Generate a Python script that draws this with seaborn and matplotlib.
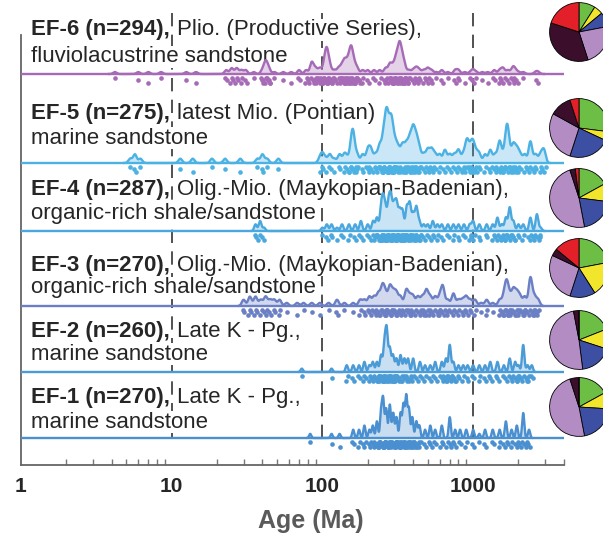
import numpy as np
import matplotlib.pyplot as plt
import seaborn as sns

# --- data: detrital zircon ages (Ma) and number of grains at each age ---
ef6_ages = [4.2, 6, 7, 8.5, 12.5, 14.5, 23, 25, 27, 29, 31, 35, 40, 42, 44, 48, 55, 62, 70, 78,
            85, 90, 96, 103, 107, 112, 120, 128, 135, 141, 148, 155, 162, 170, 185, 200, 220,
            240, 262, 280, 295, 310, 325, 338, 350, 375, 400, 420, 440, 470, 500, 530, 570,
            620, 680, 760, 800, 880, 960, 1000, 1050, 1150, 1250, 1380, 1500, 1580, 1700,
            1830, 1900, 2000, 2150, 2600, 2700]
ef6_counts = [1, 1, 1, 1, 1, 1, 2, 3, 3, 2, 2, 1, 2, 6, 3, 1, 1, 1, 2, 2,
              6, 3, 3, 5, 11, 4, 2, 3, 4, 6, 6, 12, 5, 3, 2, 2, 2,
              2, 3, 5, 4, 8, 13, 6, 4, 2, 2, 3, 2, 2, 3, 2, 1,
              2, 1, 2, 2, 1, 1, 2, 1, 1, 1, 2, 2, 3, 2,
              3, 2, 1, 1, 1, 1]

ef5_ages = [5.3, 5.7, 6.2, 11.4, 13.8, 18.5, 22.6, 28.5, 37, 40, 43, 51,
            96, 100, 105, 112, 120, 130, 140, 146, 155, 160, 170, 185, 200, 210, 225, 240,
            255, 267, 280, 290, 305, 320, 340, 360, 380, 400, 420, 440, 470, 500, 530, 560,
            600, 650, 700, 750, 800, 860, 910, 960, 1000, 1050, 1100, 1200, 1300, 1400,
            1500, 1600, 1680, 1750, 1850, 1950, 2050, 2200, 2400, 2600, 2800, 2950]
ef5_counts = [1, 2, 1, 1, 1, 1, 1, 1, 1, 2, 1, 1,
              1, 2, 1, 2, 1, 2, 2, 1, 3, 6, 2, 2, 3, 3, 2, 4,
              6, 10, 6, 7, 4, 3, 4, 4, 5, 7, 5, 3, 2, 3, 3, 2,
              2, 3, 2, 2, 3, 2, 5, 3, 4, 2, 2, 2, 3, 2,
              5, 2, 8, 2, 4, 3, 2, 2, 5, 2, 2, 3]

ef4_ages = [36, 38.6, 41, 100, 107, 115, 125, 135, 150, 165, 180, 200, 217, 230, 245, 253,
            262, 275, 285, 298, 310, 325, 340, 363, 380, 400, 420, 440, 470, 500, 540, 580,
            620, 680, 740, 800, 870, 950, 1000, 1100, 1230, 1350, 1450, 1550, 1650, 1750,
            1850, 2000, 2150, 2400, 2650, 2800]
ef4_counts = [2, 3, 1, 1, 2, 2, 1, 2, 2, 2, 3, 2, 3, 4, 6, 8,
              6, 8, 9, 7, 8, 6, 6, 7, 8, 5, 7, 3, 2, 2, 3, 2,
              2, 2, 2, 2, 2, 2, 3, 2, 2, 2, 4, 2, 4, 7,
              3, 2, 2, 4, 5, 1]

ef3_ages = [30, 33, 36, 39, 42, 45, 48, 52, 58, 68, 75, 85, 96, 110, 125, 140, 160, 178, 190,
            205, 220, 235, 250, 262, 280, 295, 310, 330, 360, 380, 400, 430, 460, 490, 520,
            560, 600, 630, 680, 740, 800, 850, 900, 960, 1030, 1130, 1230, 1350, 1500, 1600,
            1670, 1750, 1850, 1950, 2050, 2200, 2400, 2550, 2700]
ef3_counts = [2, 3, 3, 2, 3, 2, 2, 2, 1, 1, 1, 1, 1, 1, 2, 1, 1, 2, 2,
              3, 3, 4, 6, 4, 6, 4, 4, 3, 5, 3, 3, 3, 3, 5, 3,
              3, 3, 6, 2, 4, 2, 2, 3, 2, 2, 1, 2, 1, 2, 3,
              7, 3, 5, 4, 3, 3, 9, 3, 2]

ef2_ages = [73, 115, 145, 160, 175, 190, 205, 216, 230, 245, 258, 267, 280, 294, 310, 330,
            350, 370, 400, 444, 480, 520, 560, 620, 660, 700, 740, 800, 860, 920, 1000, 1100,
            1200, 1300, 1450, 1600, 1750, 1900, 2000, 2150, 2300, 2450]
ef2_counts = [1, 1, 2, 2, 2, 3, 2, 3, 3, 5, 8, 12, 7, 5, 4, 5,
              4, 4, 4, 3, 2, 2, 3, 3, 4, 8, 3, 2, 2, 2, 2, 2,
              2, 3, 3, 2, 4, 3, 2, 8, 2, 2]

ef1_ages = [83, 115, 130, 160, 175, 190, 205, 216, 230, 245, 253, 265, 280, 295, 310, 330,
            345, 360, 375, 395, 420, 440, 480, 520, 560, 620, 700, 760, 820, 900, 1000, 1100,
            1200, 1350, 1500, 1650, 1800, 1950, 2150, 2350]
ef1_counts = [1, 1, 1, 2, 2, 3, 2, 3, 4, 6, 9, 7, 8, 6, 5, 6,
              8, 10, 7, 5, 4, 3, 2, 3, 2, 3, 5, 2, 2, 2, 2, 1,
              2, 2, 2, 4, 2, 3, 6, 2]

# pie fractions (%): green, yellow, blue, lilac, maroon, red
ef6_pie = [9, 5, 8, 23, 35, 20]
ef5_pie = [27, 5, 23, 28, 12, 5]
ef4_pie = [17, 10, 20, 48, 3, 2]
ef3_pie = [22, 19, 14, 27, 4, 14]
ef2_pie = [19, 11, 18, 49, 3, 0]
ef1_pie = [17, 9, 21, 48, 5, 0]

bold_labels = ["EF-6 (n=294),", "EF-5 (n=275),", "EF-4 (n=287),",
               "EF-3 (n=270),", "EF-2 (n=260),", "EF-1 (n=270),"]
rest_labels = ["Plio. (Productive Series),", "latest Mio. (Pontian)",
               "Olig.-Mio. (Maykopian-Badenian),", "Olig.-Mio. (Maykopian-Badenian),",
               "Late K - Pg.,", "Late K - Pg.,"]
line2_labels = ["fluviolacustrine sandstone", "marine sandstone",
                "organic-rich shale/sandstone", "organic-rich shale/sandstone",
                "marine sandstone", "marine sandstone"]

ages = [ef6_ages, ef5_ages, ef4_ages, ef3_ages, ef2_ages, ef1_ages]
counts = [ef6_counts, ef5_counts, ef4_counts, ef3_counts, ef2_counts, ef1_counts]
pies = [ef6_pie, ef5_pie, ef4_pie, ef3_pie, ef2_pie, ef1_pie]

# --- layout / style ---
colors = ["#a66ab6", "#4cb2e4", "#4aa8de", "#6b7fc4", "#4a9bd6", "#4a8fd0"]
pie_colors = ["#6cbe45", "#f2e62c", "#3c4fa3", "#b38cc4", "#3b0f2c", "#e3202a"]
baselines = [74, 163, 231, 306, 372, 438]
peak_px = [33, 56, 40, 29, 47, 44]
text_y = [(30, 57), (113, 138), (189, 213), (265, 288), (332, 354), (398, 422)]
pie_y = [32, 128, 198, 268, 340, 407]

sns.set_theme(style="white")
plt.rcParams["font.family"] = ["Liberation Sans", "DejaVu Sans"]

W, H = 603, 536
X0, X1, PPD = 21, 564, 150.7
XMAX = 10 ** ((X1 - X0) / PPD)


def fbox(x0, y0, x1, y1):
    return [x0 / W, 1 - y1 / H, (x1 - x0) / W, (y1 - y0) / H]


fig = plt.figure(figsize=(W / 100, H / 100), dpi=100)

# main frame: y in pixel rows
ax = fig.add_axes(fbox(X0, 10, X1, 465))
ax.set_xscale("log")
ax.set_xlim(1, XMAX)
ax.set_ylim(465, 10)
for s in ["top", "right"]:
    ax.spines[s].set_visible(False)
for s in ["left", "bottom"]:
    ax.spines[s].set_color("#666666")
    ax.spines[s].set_linewidth(1.3)
ax.spines["left"].set_bounds(35, 465)
ax.set_yticks([43, 311, 445])
ax.set_yticklabels([])
ax.tick_params(axis="y", direction="in", length=4, color="#666666")
ax.set_xticks([1, 10, 100, 1000])
ax.set_xticklabels(["1", "10", "100", "1000"], fontweight="bold", fontsize=15)
ax.tick_params(axis="x", which="major", direction="in", length=9, width=1.2,
               color="#555555", pad=9)
ax.tick_params(axis="x", which="minor", direction="in", length=4, width=1,
               color="#777777", bottom=True)
ax.vlines([10, 100, 1000], 13, 442, colors="#333333", linewidth=1.2,
          linestyles=(0, (8, 5)), zorder=1)

fig.text(311 / W, 1 - 521 / H, "Age (Ma)", fontsize=18, fontweight="bold",
         color="#5a5a5a", ha="center", va="center")

white = dict(facecolor="white", edgecolor="none", pad=0.5)
TX = 10 ** ((31 - X0) / PPD)
for i in range(6):
    y1, y2 = text_y[i]
    t = ax.text(TX, y1, bold_labels[i], fontsize=16, fontweight="bold",
                va="center", ha="left", bbox=white, zorder=3)
    ax.annotate(rest_labels[i], xy=(1, 0), xycoords=t, xytext=(5, 0),
                textcoords="offset points", va="bottom", ha="left",
                fontsize=16, bbox=white, zorder=3)
    ax.text(TX, y2, line2_labels[i], fontsize=16, va="center", ha="left",
            bbox=white, zorder=3)

# ridges
dot_rows = [3.5, 6, 8.5]
for i in range(6):
    b = baselines[i]
    axr = fig.add_axes(fbox(X0, b - 72, X1, b + 14))
    axr.patch.set_alpha(0)
    c = colors[i]
    sns.kdeplot(x=ages[i], weights=counts[i], log_scale=True, bw_method=0.022,
                gridsize=4000, cut=3, color=c, linewidth=1.7, ax=axr)
    xd, yd = axr.lines[-1].get_data()
    s = yd.max() / peak_px[i]
    axr.fill_between(xd, 0, yd, color=c, alpha=0.3, linewidth=0)
    axr.axhline(0, color=c, linewidth=1.7)
    xs, ys = [], []
    k = 0
    for a, n in zip(ages[i], counts[i]):
        for j in range(n):
            xs.append(a * 10 ** (0.011 * (j - (n - 1) / 2)))
            ys.append(-dot_rows[k % 3] * s)
            k += 1
    axr.scatter(xs, ys, s=11, color=c, linewidths=0)
    axr.set_xlim(1, XMAX)
    axr.set_ylim(-14 * s, 72 * s)
    axr.axis("off")

# pies
for i in range(6):
    cy = pie_y[i]
    pax = fig.add_axes(fbox(549, cy - 30, 609, cy + 30))
    pax.pie(pies[i], colors=pie_colors, startangle=90, counterclock=False,
            wedgeprops=dict(edgecolor="black", linewidth=0.6))
    pax.set_xlim(-1.02, 1.02)
    pax.set_ylim(-1.02, 1.02)

fig.savefig("out.png", dpi=100)
